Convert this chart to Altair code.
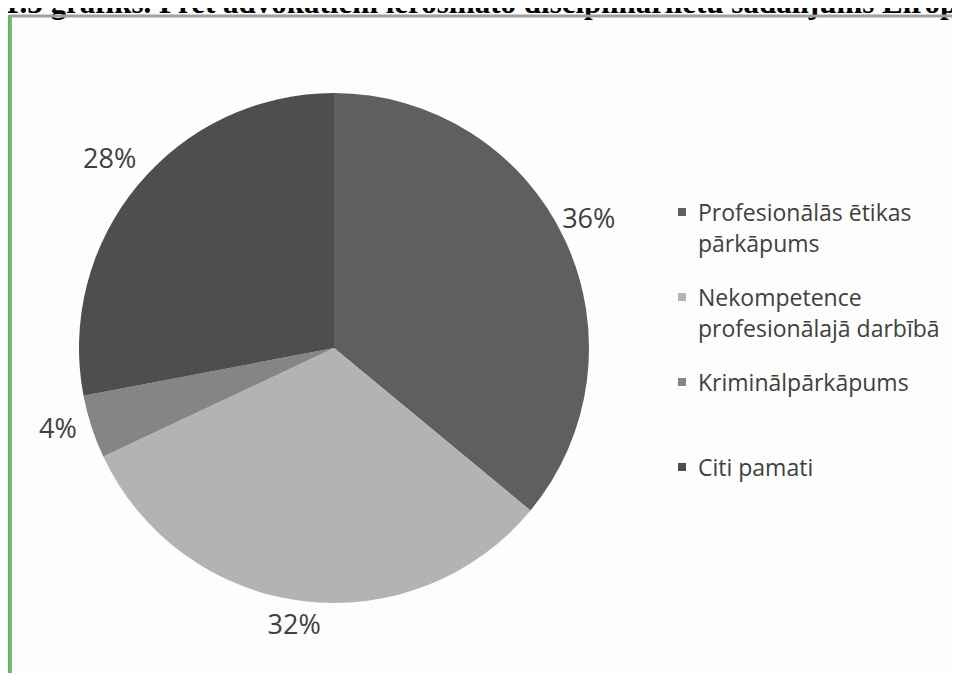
import altair as alt
import pandas as pd

# ---- data ----
title_text = "1.3 grafiks. Pret advokātiem ierosināto disciplinārlietu sadalījums Eiropā"
categories = [
    "Profesionālās ētikas pārkāpums",
    "Nekompetence profesionālajā darbībā",
    "Kriminālpārkāpums",
    "Citi pamati",
]
legend_labels = [
    "Profesionālās ētikas|pārkāpums",
    "Nekompetence|profesionālajā darbībā",
    "Kriminālpārkāpums",
    "Citi pamati",
]
shares = [36, 32, 4, 28]
slice_colors = ["#5f5f5f", "#b3b3b3", "#858585", "#4e4e4e"]

df = pd.DataFrame({
    "cat": categories,
    "legend": legend_labels,
    "share": shares,
    "order": list(range(len(categories))),
    "label": [f"{v}%" for v in shares],
})
one = pd.DataFrame({"title": [title_text]})

W, H = 944, 665
CX, CY, R = 326, 340, 255
FONT = "Open Sans"
TXT = "#404040"

color = alt.Color("cat:N", scale=alt.Scale(domain=categories, range=slice_colors), legend=None)
theta = alt.Theta("share:Q", stack=True)
order = alt.Order("order:Q", sort="ascending")

base = alt.Chart(df)

pie = base.mark_arc(outerRadius=R, stroke=None).encode(
    theta=theta, order=order, color=color,
    x=alt.value(CX), y=alt.value(CY),
)

pct = base.mark_text(radius=286, fontSize=27, font=FONT, color=TXT,
                     align="center", baseline="middle").encode(
    theta=theta, order=order, text="label:N",
    x=alt.value(CX - 4), y=alt.value(CY - 6),
)

ypos = alt.Y("cat:N", scale=alt.Scale(type="point", domain=categories, range=[204, 459], padding=0), axis=None)

leg_sq = base.mark_square(size=64, filled=True, opacity=1).encode(
    x=alt.value(674), y=ypos, color=color,
)
leg_tx = base.mark_text(align="left", baseline="alphabetic", dy=9, fontSize=23, font=FONT,
                        color=TXT, lineBreak="|", lineHeight=31).encode(
    x=alt.value(690), y=ypos, text="legend:N",
)

title = alt.Chart(one).mark_text(align="left", baseline="alphabetic", font="Liberation Serif",
                                 fontWeight="bold", fontSize=31, color="#000000").encode(
    x=alt.value(-4), y=alt.value(5), text="title:N",
)

frame_top = alt.Chart(one).mark_rule(color="#a0a0a0", strokeWidth=3).encode(
    x=alt.value(2), x2=alt.value(W), y=alt.value(8),
)
frame_left = alt.Chart(one).mark_rule(color="#a0a0a0", strokeWidth=3).encode(
    x=alt.value(2.5), y=alt.value(7), y2=alt.value(H),
)
frame_green = alt.Chart(one).mark_rule(color="#22dd22", strokeWidth=1.5).encode(
    x=alt.value(0.75), y=alt.value(7), y2=alt.value(H),
)

chart = alt.layer(
    pie, pct, leg_sq, leg_tx, title, frame_top, frame_left, frame_green
).properties(
    width=W, height=H, padding=0, autosize=alt.AutoSizeParams(type="none"),
    background="#fdfdfd",
).configure_view(stroke=None)

chart.save("out.html", embed_options={"renderer": "svg", "actions": False})
